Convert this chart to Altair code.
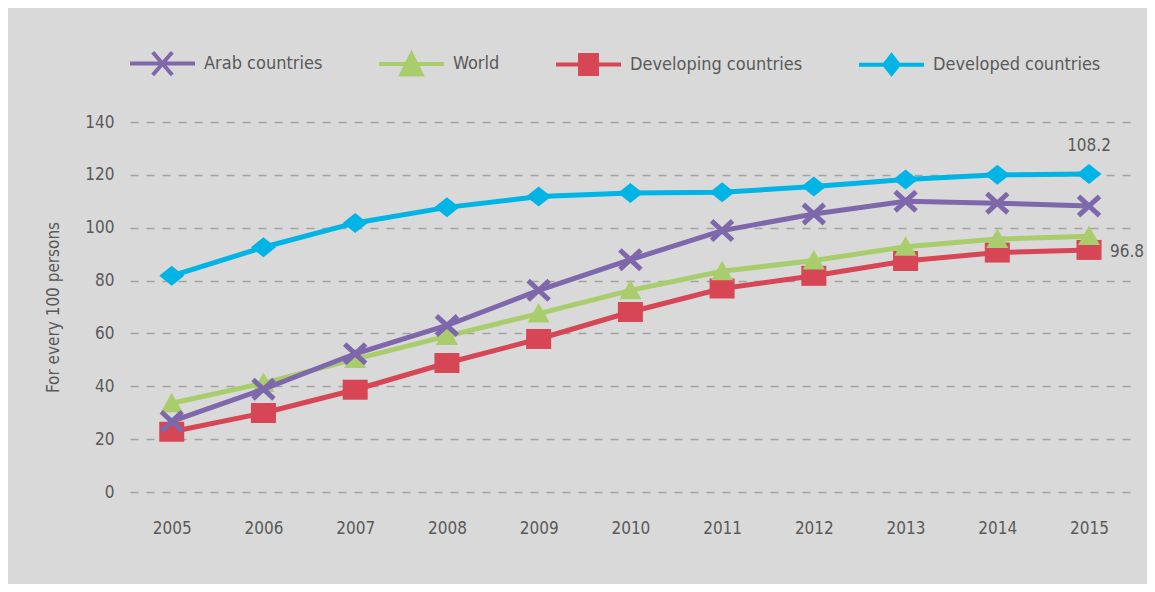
import altair as alt
import pandas as pd

# ---- data ----
years = [2005, 2006, 2007, 2008, 2009, 2010, 2011, 2012, 2013, 2014, 2015]
arab = [26.7, 38.9, 52.3, 63.0, 76.3, 87.9, 98.9, 105.2, 110.0, 109.3, 108.2]
world = [33.6, 41.2, 50.3, 59.0, 67.5, 76.3, 83.5, 87.6, 92.8, 95.7, 96.8]
developing = [22.8, 29.9, 38.7, 48.8, 57.9, 68.1, 77.0, 81.8, 87.4, 90.6, 91.6]
developed = [81.8, 92.6, 101.8, 107.7, 111.8, 113.1, 113.4, 115.6, 118.2, 120.0, 120.3]

series_names = ["Arab countries", "World", "Developing countries", "Developed countries"]
series_colors = ["#7e67ab", "#a9cd6c", "#d64654", "#00b4e5"]
y_ticks = [0, 20, 40, 60, 80, 100, 120, 140]
ann_labels = ["108.2", "96.8"]
y_title = "For every 100 persons"

FONT = "Liberation Sans Narrow, DejaVu Sans Condensed, sans-serif"
TEXT = "#595959"
BG = "#d9d9d9"

rows = []
for name, vals in zip(series_names, [arab, world, developing, developed]):
    for yr, v in zip(years, vals):
        rows.append({"year": yr, "value": v, "series": name})
df = pd.DataFrame(rows)

x_enc = alt.X("year:Q",
              scale=alt.Scale(domain=[2004.545, 2015.534], nice=False, zero=False),
              axis=alt.Axis(values=years, format="d", title=None, grid=False,
                            domain=False, ticks=False, labelFont=FONT,
                            labelFontSize=17, labelColor=TEXT, labelPadding=28,
                            labelFlush=False))
y_enc = alt.Y("value:Q",
              scale=alt.Scale(domain=[0, 140], nice=False),
              axis=alt.Axis(values=y_ticks, title=y_title, grid=True,
                            gridDash=[8, 8], gridColor="#a3a3a3", gridWidth=1.5,
                            domain=False, ticks=False, labelFont=FONT,
                            labelFontSize=17, labelColor=TEXT, labelPadding=16,
                            titleFont=FONT, titleFontSize=17, titleColor=TEXT,
                            titleFontWeight="normal", titleAngle=-90,
                            titleX=-72, titleY=185, titleBaseline="alphabetic",
                            titleAlign="center"))

# marker shapes (unit-square custom paths)
marker = {
    "Arab countries": ("M-1,-0.92L1,0.92M-1,0.92L1,-0.92", 441, False),
    "World": ("M0,-1L1.05,0.85L-1.05,0.85Z", 441, True),
    "Developing countries": ("M-1,-0.8H1V0.8H-1Z", 625, True),
    "Developed countries": ("M-1,0L0,-0.8L1,0L0,0.8Z", 625, True),
}
legend_paths = [
    "M-1,0H1M-0.3,-0.35L0.3,0.35M-0.3,0.35L0.3,-0.35",
    "M-1,0H1M0,-0.3L0.31,0.33L-0.31,0.33Z",
    "M-1,0H1M-0.26,-0.29H0.26V0.29H-0.26Z",
    "M-1,0H1M-0.22,0L0,-0.28L0.22,0L0,0.28Z",
]

base = alt.Chart(df)
layers = []
draw_order = ["Developed countries", "Developing countries", "World", "Arab countries"]
for name in draw_order:
    col = series_colors[series_names.index(name)]
    sub = base.transform_filter(alt.datum.series == name)
    layers.append(sub.mark_line(color=col, strokeWidth=5).encode(x=x_enc, y=y_enc))
    path, size, filled = marker[name]
    if filled:
        pt = sub.mark_point(shape=path, size=size, filled=True, color=col,
                            opacity=1, strokeWidth=0)
    else:
        pt = sub.mark_point(shape=path, size=size, filled=False, color=col,
                            opacity=1, strokeWidth=5)
    layers.append(pt.encode(x=x_enc, y=y_enc))

leg = alt.Legend(title=None, orient="none", legendX=-2, legendY=-93,
                 direction="horizontal", symbolSize=4225, symbolStrokeWidth=4,
                 labelFont=FONT, labelFontSize=18, labelColor=TEXT,
                 labelOffset=7, columnPadding=48, padding=0, labelLimit=400)
legend_layer = base.transform_filter("datum.value < -1000").mark_point(
    filled=True, opacity=1).encode(
    x=x_enc, y=y_enc,
    fill=alt.Fill("series:N", scale=alt.Scale(domain=series_names, range=series_colors), legend=leg),
    stroke=alt.Stroke("series:N", scale=alt.Scale(domain=series_names, range=series_colors), legend=leg),
    shape=alt.Shape("series:N", scale=alt.Scale(domain=series_names, range=legend_paths), legend=leg),
)
layers.append(legend_layer)

ann1 = pd.DataFrame({"year": [years[-1]], "value": [developed[-1]], "label": [ann_labels[0]]})
ann2 = pd.DataFrame({"year": [years[-1]], "value": [developing[-1]], "label": [ann_labels[1]]})
layers.append(alt.Chart(ann1).mark_text(font=FONT, fontSize=17, color=TEXT, dy=-28,
                                         align="center", baseline="middle")
              .encode(x=x_enc, y=y_enc, text="label:N"))
layers.append(alt.Chart(ann2).mark_text(font=FONT, fontSize=17, color=TEXT, dx=21, dy=2,
                                         align="left", baseline="middle")
              .encode(x=x_enc, y=y_enc, text="label:N"))

chart = alt.layer(*layers).properties(
    width=1008, height=370,
    autosize=alt.AutoSizeParams(type="none"),
    padding={"left": 122, "top": 114, "right": 9, "bottom": 92},
    background=BG,
).configure_view(stroke=None)

chart.save("out.html", embed_options={"renderer": "svg", "actions": False})
